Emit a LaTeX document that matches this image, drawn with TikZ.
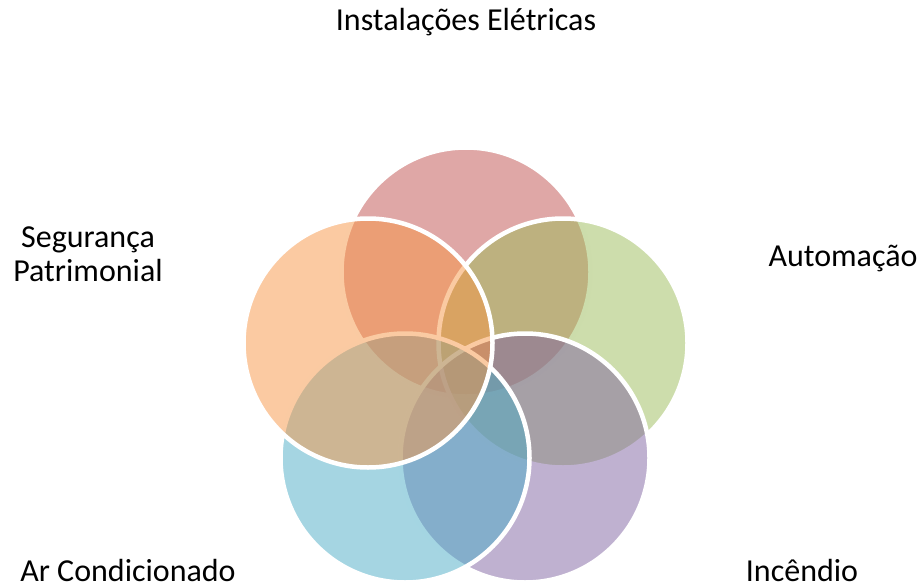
\documentclass[tikz,border=0pt]{standalone}
\usepackage{fontspec}
\setmainfont{Carlito}
\definecolor{cred}{HTML}{C0504D}
\definecolor{cgreen}{HTML}{9BBB59}
\definecolor{cpurple}{HTML}{8064A2}
\definecolor{cblue}{HTML}{4BACC6}
\definecolor{corange}{HTML}{F79646}
\begin{document}
\begin{tikzpicture}[x=1pt,y=-1pt,
  venn/.style={circle,minimum size=249pt,inner sep=0pt,draw=white,line width=4.5pt,fill opacity=0.5},
  lbl/.style={font=\fontsize{32}{38}\selectfont,inner sep=0pt,anchor=base,align=center}]
\useasboundingbox (0,0) rectangle (921,586);
\node[venn,fill=cred] (red) at (466,272) {};
\node[venn,fill=cgreen] (green) at (563,343) {};
\node[venn,fill=cpurple] (purple) at (525,458) {};
\node[venn,fill=cblue] (blue) at (405,458) {};
\node[venn,fill=corange] (orange) at (368,343) {};
\node[lbl] (t1) at (466,31) {Instalações Elétricas};
\node[lbl] (t2) at (843,266) {Automação};
\node[lbl] (t3a) at (88,247) {Segurança};
\node[lbl] (t3b) at (88,281) {Patrimonial};
\node[lbl] (t4) at (128,581) {Ar Condicionado};
\node[lbl] (t5) at (802,581) {Incêndio};
\end{tikzpicture}
\end{document}
